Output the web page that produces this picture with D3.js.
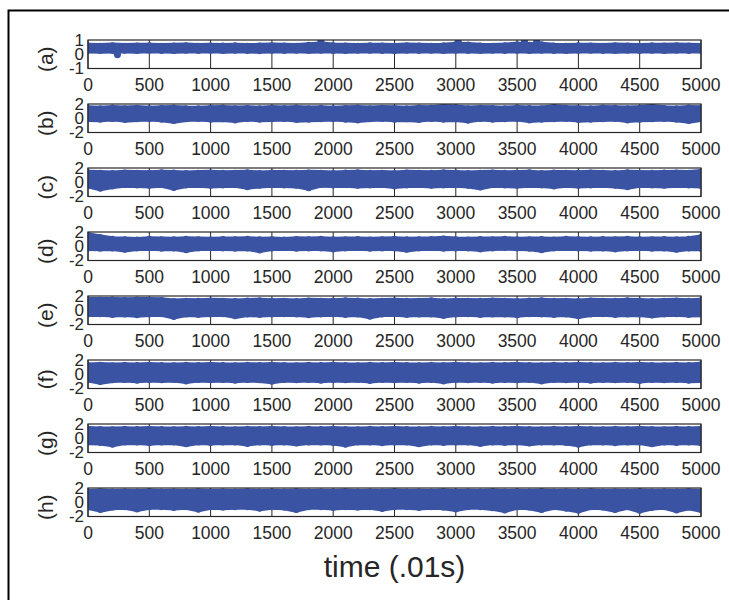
<!DOCTYPE html>
<html>
<head>
<meta charset="utf-8">
<script src="https://cdn.jsdelivr.net/npm/d3@7"></script>
<style>
  html, body { margin: 0; padding: 0; background: #fff; }
  svg { display: block; }
  text { font-family: "Liberation Sans", Arial, Helvetica, sans-serif; fill: #262626; }
</style>
</head>
<body>
<svg id="chart" width="729" height="600"></svg>
<script>
// Eight recorded channels, 5000 samples each (0.01 s steps).
// Each channel is summarised by its upper and lower excursion every 100 samples,
// plus a few isolated samples that stand out of the band.
const panelNames = ["(a)", "(b)", "(c)", "(d)", "(e)", "(f)", "(g)", "(h)"];
const sampleTimes = d3.range(0, 5001, 100);
const xTicks = [0, 500, 1000, 1500, 2000, 2500, 3000, 3500, 4000, 4500, 5000];
const yTicksA = [-1, 0, 1];
const yTicksOther = [-2, 0, 2];

const aHi = [0.62,0.6,0.64,0.6,0.62,0.63,0.6,0.62,0.64,0.6,0.62,0.61,0.63,0.6,0.62,0.64,0.62,0.6,0.66,0.72,0.64,0.62,0.6,0.63,0.62,0.6,0.64,0.62,0.6,0.63,0.7,0.68,0.62,0.6,0.64,0.7,0.66,0.7,0.62,0.6,0.63,0.62,0.6,0.64,0.62,0.6,0.63,0.62,0.64,0.62,0.6];
const aLo = [0.24,0.22,0.23,0.24,0.22,0.25,0.23,0.22,0.24,0.23,0.25,0.22,0.24,0.23,0.21,0.24,0.23,0.25,0.22,0.24,0.23,0.22,0.24,0.25,0.23,0.22,0.24,0.23,0.25,0.22,0.24,0.23,0.22,0.24,0.23,0.25,0.22,0.24,0.23,0.22,0.24,0.25,0.23,0.22,0.24,0.23,0.25,0.22,0.24,0.23,0.24];
const aOut = [[240, -0.02], [1900, 0.88], [3020, 0.85], [3560, 0.86], [3660, 0.84]];

const bHi = [1.45,1.4,1.5,1.42,1.48,1.4,1.45,1.5,1.42,1.4,1.46,1.5,1.42,1.45,1.4,1.48,1.44,1.5,1.42,1.46,1.4,1.45,1.5,1.42,1.48,1.45,1.4,1.5,1.46,1.62,1.55,1.42,1.48,1.45,1.4,1.5,1.44,1.42,1.6,1.48,1.45,1.4,1.5,1.46,1.42,1.48,1.62,1.45,1.4,1.5,1.45];
const bLo = [-0.15,-0.2,-0.1,-0.25,-0.15,-0.1,-0.2,-0.4,-0.15,-0.1,-0.2,-0.15,-0.3,-0.1,-0.2,-0.15,-0.1,-0.25,-0.2,-0.15,-0.1,-0.2,-0.3,-0.15,-0.1,-0.2,-0.15,-0.25,-0.1,-0.2,-0.15,-0.35,-0.1,-0.2,-0.15,-0.1,-0.3,-0.2,-0.15,-0.1,-0.25,-0.2,-0.15,-0.1,-0.3,-0.2,-0.15,-0.1,-0.2,-0.4,-0.15];
const bOut = [];

const cHi = [1.4,1.35,1.3,1.38,1.35,1.32,1.4,1.36,1.3,1.35,1.38,1.32,1.35,1.4,1.3,1.36,1.35,1.32,1.38,1.35,1.3,1.36,1.4,1.33,1.35,1.3,1.38,1.35,1.32,1.4,1.36,1.3,1.35,1.38,1.32,1.35,1.4,1.3,1.36,1.35,1.32,1.38,1.35,1.3,1.4,1.35,1.32,1.36,1.38,1.35,1.5];
const cLo = [-0.5,-0.9,-0.6,-0.4,-0.45,-0.5,-0.4,-0.8,-0.45,-0.4,-0.5,-0.45,-0.4,-0.7,-0.5,-0.4,-0.45,-0.5,-0.85,-0.4,-0.45,-0.4,-0.5,-0.45,-0.4,-0.6,-0.45,-0.4,-0.5,-0.45,-0.4,-0.5,-0.75,-0.4,-0.45,-0.5,-0.4,-0.45,-0.6,-0.4,-0.5,-0.45,-0.4,-0.5,-0.7,-0.4,-0.45,-0.5,-0.4,-0.45,-0.5];
const cOut = [];

const dHi = [1.6,1.3,1.05,1.0,0.95,1.05,1.0,0.98,1.05,1.0,0.96,1.02,1.0,1.05,0.98,1.0,0.95,1.03,1.0,1.05,0.98,1.0,1.02,0.96,1.0,1.05,0.98,1.0,1.02,1.1,1.0,0.96,1.02,1.0,1.05,0.98,1.0,1.02,0.96,1.05,1.0,0.98,1.02,1.0,1.05,0.97,1.0,1.02,0.98,1.05,1.3];
const dLo = [-0.3,-0.35,-0.3,-0.5,-0.3,-0.25,-0.35,-0.3,-0.55,-0.3,-0.25,-0.3,-0.35,-0.3,-0.6,-0.3,-0.25,-0.35,-0.3,-0.3,-0.45,-0.3,-0.25,-0.35,-0.3,-0.3,-0.5,-0.3,-0.25,-0.35,-0.3,-0.3,-0.45,-0.3,-0.25,-0.3,-0.35,-0.55,-0.3,-0.25,-0.3,-0.35,-0.3,-0.45,-0.3,-0.25,-0.35,-0.3,-0.5,-0.3,-0.35];
const dOut = [];

const eHi = [1.5,1.48,1.5,1.45,1.5,1.48,1.45,1.3,1.35,1.32,1.38,1.35,1.3,1.36,1.4,1.33,1.35,1.3,1.38,1.35,1.32,1.4,1.36,1.3,1.35,1.38,1.32,1.35,1.4,1.3,1.36,1.35,1.32,1.38,1.35,1.3,1.36,1.4,1.33,1.35,1.3,1.38,1.35,1.32,1.4,1.36,1.3,1.35,1.38,1.32,1.4];
const eLo = [-0.6,-0.55,-0.65,-0.6,-0.7,-0.6,-0.55,-0.95,-0.6,-0.65,-0.6,-0.55,-0.85,-0.6,-0.65,-0.6,-0.55,-0.6,-0.7,-0.6,-0.55,-0.65,-0.6,-0.9,-0.6,-0.55,-0.65,-0.6,-0.6,-0.8,-0.6,-0.55,-0.65,-0.6,-0.6,-0.7,-0.55,-0.6,-0.65,-0.6,-0.85,-0.6,-0.55,-0.65,-0.6,-0.6,-0.75,-0.6,-0.55,-0.65,-0.6];
const eOut = [];

const fHi = [1.3,1.35,1.28,1.32,1.3,1.35,1.3,1.28,1.33,1.3,1.35,1.3,1.28,1.32,1.3,1.35,1.3,1.28,1.33,1.3,1.35,1.3,1.28,1.32,1.3,1.35,1.3,1.28,1.33,1.3,1.35,1.3,1.28,1.32,1.3,1.35,1.3,1.28,1.33,1.3,1.35,1.3,1.28,1.32,1.3,1.35,1.3,1.28,1.33,1.3,1.4];
const fLo = [-0.8,-1.1,-0.85,-0.8,-0.9,-0.8,-0.85,-0.8,-1.0,-0.8,-0.85,-0.8,-0.9,-0.8,-0.85,-1.05,-0.8,-0.85,-0.8,-0.9,-0.8,-0.85,-0.8,-0.95,-0.8,-0.85,-0.8,-0.9,-0.8,-1.0,-0.8,-0.85,-0.8,-0.9,-0.8,-0.85,-0.8,-1.0,-0.8,-0.85,-0.8,-0.9,-0.8,-0.85,-0.8,-0.95,-0.8,-0.85,-0.8,-0.9,-0.85];
const fOut = [];

const gHi = [1.35,1.3,1.28,1.32,1.3,1.35,1.3,1.28,1.33,1.3,1.35,1.3,1.28,1.32,1.3,1.35,1.3,1.28,1.33,1.3,1.35,1.3,1.28,1.32,1.3,1.35,1.3,1.28,1.33,1.3,1.35,1.3,1.28,1.32,1.3,1.35,1.3,1.28,1.33,1.3,1.35,1.3,1.28,1.32,1.3,1.35,1.3,1.28,1.33,1.3,1.35];
const gLo = [-0.6,-0.65,-0.9,-0.6,-0.6,-0.7,-0.6,-0.6,-0.85,-0.6,-0.65,-0.6,-0.6,-0.8,-0.6,-0.65,-0.6,-0.75,-0.6,-0.6,-0.65,-0.9,-0.6,-0.6,-0.7,-0.6,-0.6,-0.85,-0.6,-0.65,-0.6,-0.6,-0.8,-0.6,-0.65,-0.6,-0.75,-0.6,-0.6,-0.65,-0.9,-0.6,-0.6,-0.7,-0.6,-0.6,-0.85,-0.6,-0.65,-0.6,-0.7];
const gOut = [];

const hHi = [1.5,1.55,1.5,1.52,1.5,1.55,1.5,1.52,1.5,1.55,1.5,1.52,1.5,1.55,1.5,1.52,1.5,1.55,1.5,1.52,1.5,1.55,1.5,1.52,1.5,1.55,1.5,1.52,1.5,1.55,1.5,1.52,1.5,1.55,1.5,1.52,1.5,1.55,1.5,1.52,1.5,1.55,1.5,1.52,1.5,1.55,1.5,1.52,1.5,1.55,1.5];
const hLo = [-0.7,-1.1,-0.75,-0.7,-1.0,-0.7,-0.7,-0.8,-0.7,-1.05,-0.7,-0.75,-0.7,-0.7,-0.9,-0.7,-0.75,-1.1,-0.7,-0.7,-0.8,-0.7,-0.75,-0.7,-0.95,-0.7,-0.7,-0.8,-0.7,-0.75,-1.0,-0.7,-0.7,-0.85,-1.15,-0.7,-0.75,-1.1,-0.7,-0.9,-1.2,-0.7,-0.75,-1.1,-0.7,-1.2,-0.8,-0.7,-1.15,-0.75,-1.1];
const hOut = [];

const channels = [
  { name: panelNames[0], hi: aHi, lo: aLo, out: aOut, yTicks: yTicksA },
  { name: panelNames[1], hi: bHi, lo: bLo, out: bOut, yTicks: yTicksOther },
  { name: panelNames[2], hi: cHi, lo: cLo, out: cOut, yTicks: yTicksOther },
  { name: panelNames[3], hi: dHi, lo: dLo, out: dOut, yTicks: yTicksOther },
  { name: panelNames[4], hi: eHi, lo: eLo, out: eOut, yTicks: yTicksOther },
  { name: panelNames[5], hi: fHi, lo: fLo, out: fOut, yTicks: yTicksOther },
  { name: panelNames[6], hi: gHi, lo: gLo, out: gOut, yTicks: yTicksOther },
  { name: panelNames[7], hi: hHi, lo: hLo, out: hOut, yTicks: yTicksOther }
];

const svg = d3.select("#chart");
const BLUE = "#3b53a3";
const INK = "#262626";
const left = 88, right = 701, top0 = 40, rowStep = 64, boxH = 28.5;
const markR = 2.6;

// figure frame
svg.append("rect")
  .attr("x", 8.5).attr("y", 10.5)
  .attr("width", 760).attr("height", 640)
  .attr("fill", "none").attr("stroke", "#000").attr("stroke-width", 2);

const x = d3.scaleLinear().domain([0, 5000]).range([left, right]);

channels.forEach((ch, i) => {
  const top = top0 + i * rowStep;
  const bottom = top + boxH;
  const ext = d3.extent(ch.yTicks);
  const y = d3.scaleLinear().domain(ext).range([bottom, top]);
  const g = svg.append("g");
  const clipId = "clip" + i;

  g.append("clipPath").attr("id", clipId)
    .append("rect").attr("x", left).attr("y", top).attr("width", right - left).attr("height", boxH);

  // tick lines first, so the signal covers them
  g.append("g").selectAll("line").data(xTicks).join("line")
    .attr("x1", d => x(d)).attr("x2", d => x(d))
    .attr("y1", top).attr("y2", bottom)
    .attr("stroke", INK).attr("stroke-width", 1);

  const plot = g.append("g").attr("clip-path", `url(#${clipId})`);
  const pts = sampleTimes.map((t, k) => ({ t, hi: ch.hi[k], lo: ch.lo[k] }));

  // signal band
  plot.append("path")
    .datum(pts)
    .attr("d", d3.area().x(d => x(d.t)).y0(d => y(d.lo)).y1(d => y(d.hi)))
    .attr("fill", BLUE)
    .attr("stroke", BLUE).attr("stroke-width", 2 * markR).attr("stroke-linejoin", "round");

  // sample markers along both edges of the band
  plot.append("g").selectAll("circle")
    .data(pts.flatMap(d => [{ t: d.t, v: d.hi }, { t: d.t, v: d.lo }]))
    .join("circle")
    .attr("cx", d => x(d.t)).attr("cy", d => y(d.v)).attr("r", markR + 0.4)
    .attr("fill", BLUE);

  // isolated samples sticking out of the band
  const mid = (ch.hi[0] + ch.lo[0]) / 2;
  plot.append("g").selectAll("line").data(ch.out).join("line")
    .attr("x1", d => x(d[0])).attr("x2", d => x(d[0]))
    .attr("y1", y(mid)).attr("y2", d => y(d[1]))
    .attr("stroke", BLUE).attr("stroke-width", 5);
  plot.append("g").selectAll("circle").data(ch.out).join("circle")
    .attr("cx", d => x(d[0])).attr("cy", d => y(d[1])).attr("r", 3.6)
    .attr("fill", BLUE);

  // axes box
  g.append("rect")
    .attr("x", left).attr("y", top).attr("width", right - left).attr("height", boxH)
    .attr("fill", "none").attr("stroke", INK).attr("stroke-width", 1.2);

  // x tick labels
  g.append("g").selectAll("text").data(xTicks).join("text")
    .attr("x", d => x(d)).attr("y", bottom + 22)
    .attr("text-anchor", "middle")
    .attr("font-size", "17.5px")
    .text(d => d);

  // y tick labels
  g.append("g").selectAll("text").data(ch.yTicks).join("text")
    .attr("x", left - 4).attr("y", d => y(d))
    .attr("text-anchor", "end").attr("dominant-baseline", "central")
    .attr("font-size", "17px")
    .text(d => d);

  // channel label
  g.append("text")
    .attr("transform", `translate(45,${(top + bottom) / 2 + 5}) rotate(-90)`)
    .attr("text-anchor", "middle").attr("dominant-baseline", "central")
    .attr("font-size", "21px")
    .text(ch.name);
});

svg.append("text")
  .attr("x", (left + right) / 2).attr("y", 577)
  .attr("text-anchor", "middle")
  .attr("font-size", "30px")
  .text("time (.01s)");
</script>
</body>
</html>
